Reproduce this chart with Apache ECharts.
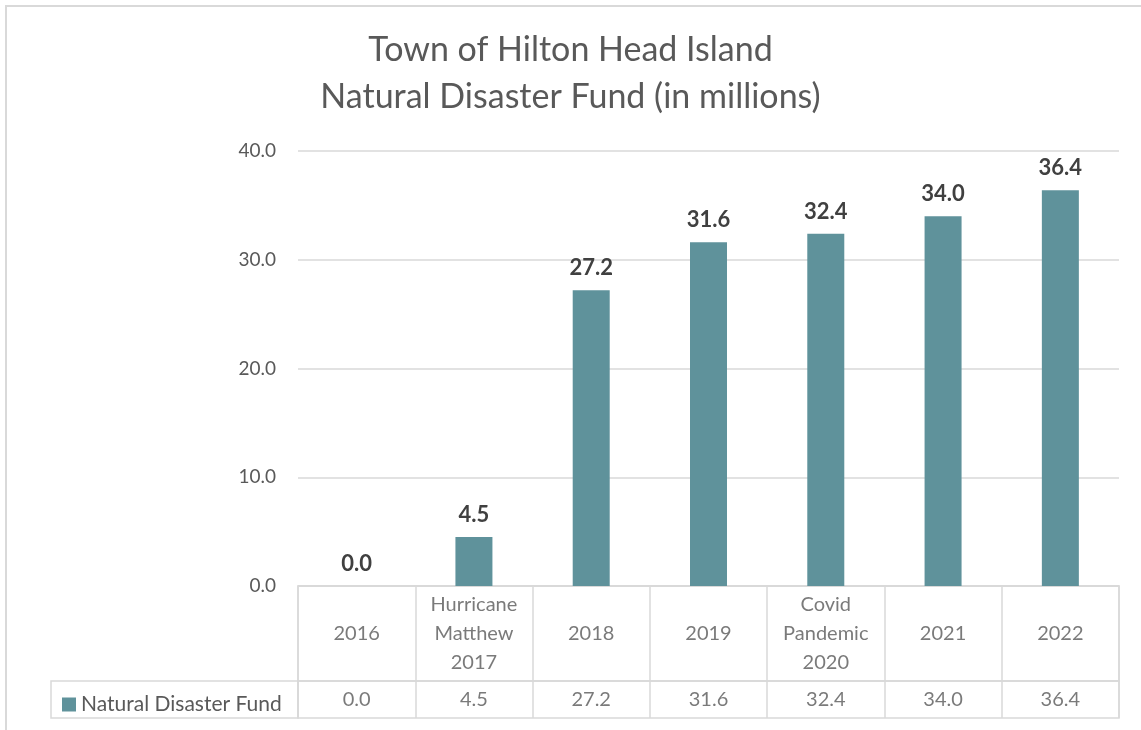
<!DOCTYPE html>
<html>
<head>
<meta charset="utf-8">
<script src="https://cdn.jsdelivr.net/npm/echarts@6/dist/echarts.min.js"></script>
<style>
html,body{margin:0;padding:0;background:#fff;}
#wrap{position:absolute;left:0;top:0;width:1141px;height:730px;}
#frame{position:absolute;left:5px;top:5px;width:1200px;height:800px;border-left:2px solid #d9d9d9;border-top:2px solid #d9d9d9;}
#chart{position:absolute;left:0;top:0;width:1141px;height:730px;}
</style>
</head>
<body>
<div id="wrap"><div id="frame"></div><div id="chart"></div></div>
<script>
const titleLines = ['Town of Hilton Head Island', 'Natural Disaster Fund (in millions)'];
const seriesName = 'Natural Disaster Fund';
const categories = ['2016', 'Hurricane\nMatthew\n2017', '2018', '2019', 'Covid\nPandemic\n2020', '2021', '2022'];
const values = [0.0, 4.5, 27.2, 31.6, 32.4, 34.0, 36.4];
const yTicks = [0, 10, 20, 30, 40];

const FONT = 'Lato, "Open Sans", sans-serif';
const TXT = '#595959';
const LINE = '#d9d9d9';
const BAR = '#5f929b';

const chart = echarts.init(document.getElementById('chart'), null, {renderer: 'canvas'});

const tableGridBase = {show: true, borderColor: LINE, borderWidth: 1.5, backgroundColor: 'transparent'};
const tableX = (gi) => ({
  type: 'category', gridIndex: gi, data: categories, boundaryGap: true,
  axisLabel: {show: false}, axisTick: {show: false}, axisLine: {show: false},
  splitLine: {show: true, interval: 0, lineStyle: {color: LINE, width: 1.5}}
});

const option = {
  backgroundColor: 'transparent',
  animation: false,
  textStyle: {fontFamily: FONT},
  title: {
    text: titleLines.join('\n'),
    left: 'center', top: 22,
    textStyle: {fontFamily: FONT, fontSize: 34, fontWeight: 'normal', color: TXT, lineHeight: 47}
  },
  legend: {
    show: true, data: [seriesName], left: 57, top: 689,
    icon: 'rect', itemWidth: 14, itemHeight: 14, itemGap: 6,
    textStyle: {fontFamily: FONT, fontSize: 21, color: TXT}
  },
  grid: [
    {left: 298, right: 22, top: 151, bottom: 144},
    Object.assign({left: 298, right: 22, top: 586, height: 95}, tableGridBase),
    Object.assign({left: 298, right: 22, top: 681, height: 37}, tableGridBase),
    Object.assign({left: 51, width: 247, top: 681, height: 37}, tableGridBase)
  ],
  xAxis: [
    {type: 'category', gridIndex: 0, data: categories,
      axisLabel: {show: false}, axisTick: {show: false},
      axisLine: {show: true, lineStyle: {color: LINE, width: 1.5}}},
    tableX(1),
    tableX(2),
    {type: 'value', gridIndex: 3, show: false, min: 0, max: 1}
  ],
  yAxis: [
    {type: 'value', gridIndex: 0, min: yTicks[0], max: yTicks[yTicks.length - 1], interval: 10,
      axisLine: {show: false}, axisTick: {show: false},
      axisLabel: {fontFamily: FONT, fontSize: 19, color: TXT, margin: 22, formatter: v => v.toFixed(1)},
      splitLine: {lineStyle: {color: LINE, width: 1.5}}},
    {type: 'category', gridIndex: 1, data: ['h'], show: false},
    {type: 'category', gridIndex: 2, data: ['d'], show: false},
    {type: 'value', gridIndex: 3, show: false, min: 0, max: 1}
  ],
  series: [
    {
      name: seriesName, type: 'bar', xAxisIndex: 0, yAxisIndex: 0,
      data: values, barWidth: 37,
      itemStyle: {color: BAR},
      label: {show: true, position: 'top', distance: 11, fontFamily: FONT, fontSize: 22,
        fontWeight: 'bold', color: '#404040', formatter: p => p.value.toFixed(1)}
    },
    {
      type: 'scatter', xAxisIndex: 1, yAxisIndex: 1, symbolSize: 0, silent: true,
      data: categories.map(c => [c, 'h']),
      label: {show: true, position: 'inside', fontFamily: FONT, fontSize: 20, color: TXT,
        lineHeight: 29, align: 'center', verticalAlign: 'middle', formatter: p => p.value[0]}
    },
    {
      type: 'scatter', xAxisIndex: 2, yAxisIndex: 2, symbolSize: 0, silent: true,
      data: values.map((v, i) => [categories[i], 'd', v]),
      label: {show: true, position: 'inside', fontFamily: FONT, fontSize: 20, color: TXT,
        align: 'center', verticalAlign: 'middle', formatter: p => p.value[2].toFixed(1)}
    }
  ]
};
chart.setOption(option);
</script>
</body>
</html>
